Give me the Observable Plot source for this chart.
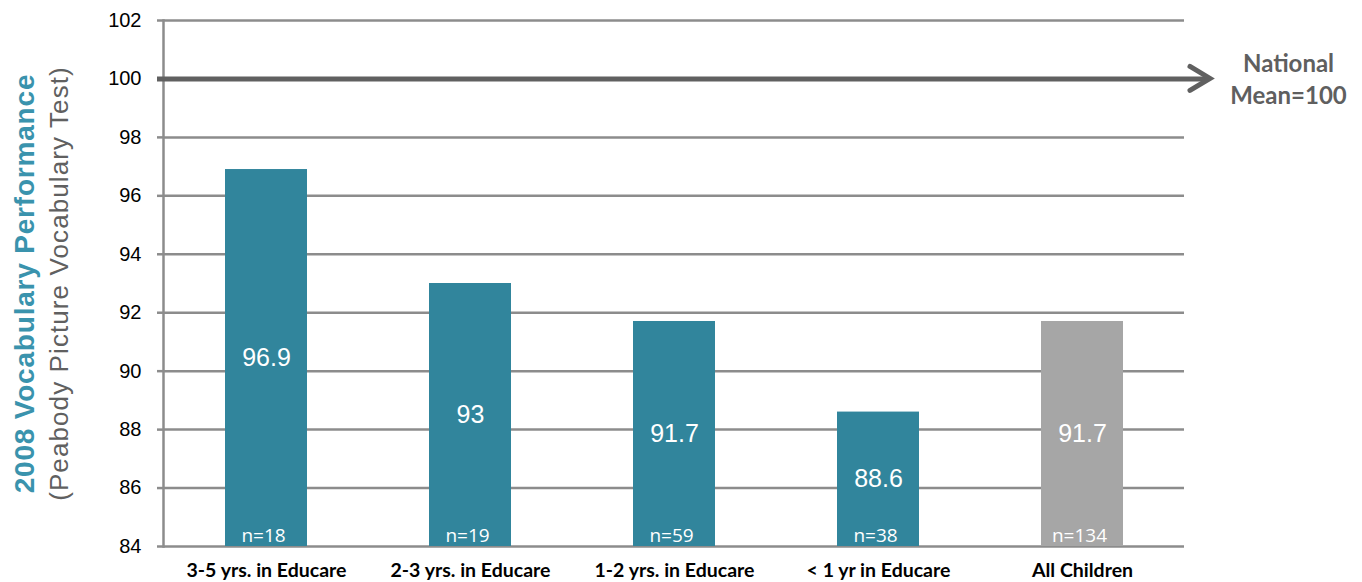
<!DOCTYPE html>
<html><head><meta charset="utf-8">
<script src="https://cdn.jsdelivr.net/npm/d3@7"></script>
<script src="https://cdn.jsdelivr.net/npm/@observablehq/plot@0.6"></script>
<style>body{margin:0;background:#fff}</style>
</head><body><div id="chart"></div>
<script>
const categories = ["3-5 yrs. in Educare", "2-3 yrs. in Educare", "1-2 yrs. in Educare", "< 1 yr in Educare", "All Children"];
const values = [96.9, 93, 91.7, 88.6, 91.7];
const counts = ["n=18", "n=19", "n=59", "n=38", "n=134"];
const groups = ["educare", "educare", "educare", "educare", "all"];
const yTicks = [84, 86, 88, 90, 92, 94, 96, 98, 100, 102];
const nationalMean = 100;
const nationalLabel = "National\nMean=100";
const titleMain = "2008 Vocabulary Performance";
const titleSub = "(Peabody Picture Vocabulary Test)";
const yMin = 84, yMax = 102;

const data = categories.map((c, i) => ({category: c, value: values[i], n: counts[i], group: groups[i]}));

const W = 1362, H = 582, ML = 163, MR = 178, MT = 20, MB = 36;
const grid = "#8c8c8c";

const chart = Plot.plot({
  width: W, height: H, marginLeft: ML, marginRight: MR, marginTop: MT, marginBottom: MB,
  style: {fontFamily: "'Liberation Sans', Arial, sans-serif", background: "#fff", overflow: "visible", color: "#000"},
  x: {domain: categories, paddingInner: 0.6, paddingOuter: 0.3, label: null},
  y: {domain: [yMin, yMax], label: null},
  color: {domain: ["educare", "all"], range: ["#31859c", "#a6a6a6"]},
  marks: [
    Plot.gridY(yTicks, {stroke: grid, strokeOpacity: 1, strokeWidth: 2.5}),
    Plot.axisY(yTicks, {tickSize: 6, tickPadding: 16, stroke: grid, strokeWidth: 2.5, strokeOpacity: 1, fontSize: 20, label: null}),
    Plot.frame({anchor: "left", stroke: grid, strokeWidth: 2.5}),
    Plot.ruleY([nationalMean], {stroke: "#606060", strokeWidth: 5, insetLeft: -6, insetRight: -22}),
    Plot.barY(data, {x: "category", y1: yMin, y2: "value", fill: "group"}),
    Plot.text(data, {x: "category", y: d => (d.value + yMin) / 2, text: d => String(d.value), fill: "white", fontSize: 25}),
    Plot.text(data, {x: "category", y: yMin, text: "n", dy: -11, dx: -3, fill: "white", fontSize: 19, fontFamily: "'Open Sans', sans-serif"}),
    Plot.axisX({tickSize: 0, tickPadding: 17, fontSize: 19.5, fontWeight: "bold", fontFamily: "Lato, sans-serif", label: null}),
    Plot.text([titleMain], {frameAnchor: "left", dx: -138, rotate: -90, textAnchor: "middle", fill: "#3a93ad", fontSize: 28, fontWeight: "bold"}),
    Plot.text([titleSub], {frameAnchor: "left", dx: -104, rotate: -90, textAnchor: "middle", fill: "#606060", fontSize: 26}),
    Plot.text([nationalLabel], {frameAnchor: "right", y: [nationalMean], dx: 104, dy: -1, textAnchor: "middle", fill: "#5f5f5f", fontSize: 24, fontWeight: "bold", fontFamily: "Lato, sans-serif", lineHeight: 1.33})
  ]
});
document.getElementById("chart").appendChild(chart);

// widen the rotated axis titles slightly
d3.select(chart).selectAll("text")
  .filter(function () { return this.textContent === titleMain; })
  .style("letter-spacing", "0.8px");
d3.select(chart).selectAll("text")
  .filter(function () { return this.textContent === titleSub; })
  .style("letter-spacing", "1.1px");

// arrowhead at the end of the national mean line
const yPos = chart.scale("y").apply(nationalMean);
const xEnd = W - MR + 26;
d3.select(chart).append("path")
  .attr("d", `M${xEnd - 20},${yPos - 12} L${xEnd},${yPos} L${xEnd - 20},${yPos + 12}`)
  .attr("fill", "none").attr("stroke", "#606060").attr("stroke-width", 5)
  .attr("stroke-linecap", "round").attr("stroke-linejoin", "miter");
</script>
</body></html>
